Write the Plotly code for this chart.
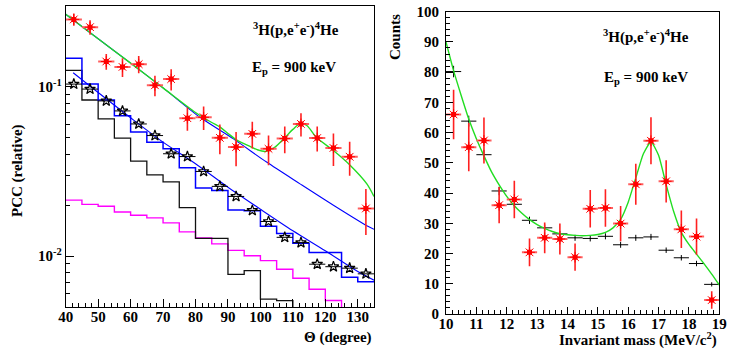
import plotly.graph_objects as go

W, H = 738, 356

# ---------------- Left panel data (Theta in degrees) ----------------
theta_edges = [40, 45, 50, 55, 60, 65, 70, 75, 80, 85, 90, 95, 100, 105, 110, 115, 120, 125, 130, 135]
theta_centers = [42.5, 47.5, 52.5, 57.5, 62.5, 67.5, 72.5, 77.5, 82.5, 87.5, 92.5, 97.5,
                 102.5, 107.5, 112.5, 117.5, 122.5, 127.5, 132.5]

pcc_exp = [0.250, 0.225, 0.141, 0.131, 0.136, 0.102, 0.111, 0.0652, 0.0660, 0.0499, 0.0440,
           0.0527, 0.0430, 0.0494, 0.0603, 0.0498, 0.0435, 0.0386, 0.0191]
pcc_exp_err = [0.021, 0.022, 0.015, 0.0166, 0.016, 0.014, 0.016, 0.0102, 0.0105, 0.0100, 0.0101,
               0.0095, 0.0086, 0.0089, 0.0095, 0.0084, 0.0095, 0.0088, 0.0058]

pcc_sim = [0.1037, 0.0969, 0.0825, 0.0720, 0.0603, 0.0515, 0.0402, 0.0387, 0.0316, 0.0258, 0.0225,
           0.0186, 0.0160, 0.0129, 0.0120, 0.00895, 0.00865, 0.00848, 0.00785]

hist_blue = [0.1475, 0.1037, 0.0836, 0.0675, 0.0540, 0.0470, 0.0430, 0.0332, 0.0252, 0.0244,
             0.0187, 0.0185, 0.0150, 0.0136, 0.0119, 0.0105, 0.0105, 0.0075, 0.00706]
hist_black = [0.125, 0.0835, 0.0646, 0.0497, 0.0364, 0.0302, 0.0274, 0.0193, 0.0127, 0.0127,
              0.0078, 0.0082, 0.00556, 0.00546, 0.004, 0.004, 0.004, 0.004, 0.004]
hist_magenta = [0.0214, 0.0202, 0.0197, 0.0182, 0.0174, 0.0168, 0.0157, 0.0139, 0.0128, 0.0118,
                0.0108, 0.01005, 0.0094, 0.00836, 0.0074, 0.00637, 0.00546, 0.004, 0.004]

fit_green_theta = [40, 50, 60, 70, 80, 85, 87.6, 90, 93, 96.8, 99, 101.5, 104.5, 107.5, 110, 112.3,
                   114.3, 117.4, 122.5, 127.7, 132.8, 135]
fit_green_pcc = [0.268, 0.192, 0.138, 0.0985, 0.0705, 0.0615, 0.0577, 0.0530, 0.0480, 0.0444, 0.0425,
                 0.0415, 0.0440, 0.0500, 0.0560, 0.0608, 0.0590, 0.0499, 0.0420, 0.0343, 0.0267, 0.0225]

fit_bg_theta = [40, 50, 60, 70, 81.4, 91.7, 101.9, 112.2, 122.5, 132.8, 135]
fit_bg_pcc = [0.268, 0.192, 0.138, 0.0985, 0.066, 0.0492, 0.0359, 0.0267, 0.01995, 0.0151, 0.0144]

fit_sim_theta = [42.3, 50, 60, 70, 80, 90, 100, 110, 120, 130, 135]
fit_sim_pcc = [0.121, 0.0925, 0.0656, 0.0471, 0.0351, 0.0255, 0.0189, 0.0141, 0.01074, 0.0081, 0.0072]

# ---------------- Right panel data (invariant mass) ----------------
mass_centers = [10.25, 10.75, 11.25, 11.75, 12.25, 12.75, 13.25, 13.75, 14.25, 14.75, 15.25,
                15.75, 16.25, 16.75, 17.25, 17.75, 18.25, 18.75]
counts_exp = [66.0, 55.2, 57.4, 36.0, 37.9, 20.4, 25.2, 24.8, 18.8, 34.8, 35.1, 29.9, 42.9, 57.3,
              43.9, 28.0, 25.6, 4.6]
counts_exp_err = [8.2, 8.0, 7.6, 6.0, 6.2, 4.6, 5.1, 5.1, 4.5, 6.2, 6.2, 5.8, 6.8, 7.8, 7.0, 6.2,
                  6.0, 2.9]
counts_sim = [80.2, 63.8, 52.7, 40.7, 36.3, 31.0, 28.5, 26.5, 25.2, 25.0, 25.7, 22.9, 25.2, 25.5,
              21.1, 18.6, 16.7, 9.8]
counts_sim_err = [1.9, 1.8, 1.6, 1.4, 1.3, 1.2, 1.1, 1.0, 1.0, 1.0, 1.0, 1.0, 1.0, 1.0, 0.9, 0.9,
                  0.9, 0.7]

fit_mass = [10.0, 10.25, 10.5, 10.75, 11.0, 11.25, 11.5, 11.75, 12.0, 12.25, 12.5, 12.75, 13.0,
            13.25, 13.5, 13.75, 14.0, 14.25, 14.5, 14.75, 15.0, 15.25, 15.5, 15.75, 16.0, 16.25,
            16.5, 16.75, 17.0, 17.25, 17.5, 17.75, 18.0, 18.25, 18.5, 18.75, 19.0]
fit_counts = [90.0, 80.5, 72.3, 64.5, 58.0, 52.3, 47.0, 42.7, 38.9, 35.8, 33.3, 31.2, 29.6,
              28.3, 27.3, 26.6, 26.2, 26.0, 25.9, 26.0, 26.3, 27.0, 28.5, 31.3, 37.0, 45.0,
              53.0, 57.0, 52.5, 42.8, 33.8, 27.0, 23.0, 19.8, 16.6, 13.2, 9.6]

theta_halfbin = 2.5
mass_halfbin = 0.25

# ---------------- Styles ----------------
SERIF = "Liberation Serif"
RED = "#ff0000"
GREEN = "#22dd22"
BLUE = "#0000ff"
MAGENTA = "#ff00ff"


def step_xy(edges, vals):
    xs = list(edges)
    ys = list(vals) + [vals[-1]]
    return xs, ys


fig = go.Figure()

# histograms (left)
for vals, col, w in [(hist_magenta, MAGENTA, 1.4), (hist_black, "#111111", 1.3), (hist_blue, BLUE, 1.5)]:
    xs, ys = step_xy(theta_edges, vals)
    fig.add_trace(go.Scatter(x=xs, y=ys, mode="lines", line=dict(color=col, width=w, shape="hv"),
                             xaxis="x", yaxis="y", showlegend=False, hoverinfo="skip"))

# fit lines (left)
fig.add_trace(go.Scatter(x=fit_bg_theta, y=fit_bg_pcc, mode="lines",
                         line=dict(color=BLUE, width=1.1, shape="spline", smoothing=0.8),
                         xaxis="x", yaxis="y", showlegend=False))
fig.add_trace(go.Scatter(x=fit_sim_theta, y=fit_sim_pcc, mode="lines",
                         line=dict(color=BLUE, width=1.1, shape="spline", smoothing=0.8),
                         xaxis="x", yaxis="y", showlegend=False))
fig.add_trace(go.Scatter(x=fit_green_theta, y=fit_green_pcc, mode="lines",
                         line=dict(color=GREEN, width=1.4, shape="spline", smoothing=0.8),
                         xaxis="x", yaxis="y", showlegend=False))

# simulated points (stars)
fig.add_trace(go.Scatter(x=theta_centers, y=pcc_sim, mode="markers",
                         marker=dict(symbol="star-open", size=8, color="black", line=dict(width=1.2, color="black")),
                         error_x=dict(type="constant", value=theta_halfbin, color="black", thickness=1, width=0),
                         xaxis="x", yaxis="y", showlegend=False))

# experimental points (left)
fig.add_trace(go.Scatter(x=theta_centers, y=pcc_exp, mode="markers",
                         marker=dict(symbol="square", size=5, color=RED),
                         error_x=dict(type="constant", value=theta_halfbin, color="#ff6060", thickness=2, width=0),
                         error_y=dict(type="data", array=pcc_exp_err, color="#ff2020", thickness=1.6, width=0),
                         xaxis="x", yaxis="y", showlegend=False))
fig.add_trace(go.Scatter(x=theta_centers, y=pcc_exp, mode="markers",
                         marker=dict(symbol="asterisk-open", size=9, color=RED, line=dict(width=1, color=RED)),
                         xaxis="x", yaxis="y", showlegend=False, hoverinfo="skip"))

# ---------------- Right panel ----------------
fig.add_trace(go.Scatter(x=mass_centers, y=counts_sim, mode="markers",
                         marker=dict(size=1, color="black"),
                         error_x=dict(type="constant", value=mass_halfbin, color="black", thickness=1, width=0),
                         error_y=dict(type="data", array=counts_sim_err, color="black", thickness=1, width=0),
                         xaxis="x2", yaxis="y2", showlegend=False))
fig.add_trace(go.Scatter(x=fit_mass, y=fit_counts, mode="lines",
                         line=dict(color=GREEN, width=1.4, shape="spline", smoothing=0.5),
                         xaxis="x2", yaxis="y2", showlegend=False))
fig.add_trace(go.Scatter(x=mass_centers, y=counts_exp, mode="markers",
                         marker=dict(symbol="square", size=5, color=RED),
                         error_x=dict(type="constant", value=mass_halfbin, color="#ff6060", thickness=2, width=0),
                         error_y=dict(type="data", array=counts_exp_err, color="#ff2020", thickness=1.6, width=0),
                         xaxis="x2", yaxis="y2", showlegend=False))
fig.add_trace(go.Scatter(x=mass_centers, y=counts_exp, mode="markers",
                         marker=dict(symbol="asterisk-open", size=9, color=RED, line=dict(width=1, color=RED)),
                         xaxis="x2", yaxis="y2", showlegend=False, hoverinfo="skip"))

tickfont = dict(family=SERIF, size=15, color="black", weight="bold")
common = dict(showgrid=False, zeroline=False, showline=True, mirror=True, linecolor="black",
              linewidth=1, ticks="inside", tickcolor="black", tickwidth=1, tickfont=tickfont,
              automargin=False)

log_minor = [0.006, 0.007, 0.008, 0.009, 0.02, 0.03, 0.04, 0.05, 0.06, 0.07, 0.08, 0.09, 0.2, 0.3]

fig.update_layout(
    width=W, height=H, margin=dict(l=0, r=0, t=0, b=0, autoexpand=False),
    paper_bgcolor="white", plot_bgcolor="white", showlegend=False,
    xaxis=dict(domain=[65.7 / W, 374 / W], range=[40, 135], anchor="y",
               tickvals=[40, 50, 60, 70, 80, 90, 100, 110, 120, 130], ticklen=8,
               minor=dict(dtick=2, tick0=40, ticks="inside", ticklen=4, tickcolor="black"),
               ticklabelstandoff=-4, **common),
    yaxis=dict(domain=[1 - 307 / H, 1 - 6 / H], type="log", range=[-2.30103, -0.52288], anchor="x",
               tickvals=[0.01, 0.1], ticktext=["10<sup>-2</sup>", "10<sup>-1</sup>"], ticklen=8,
               minor=dict(tickvals=log_minor, ticks="inside", ticklen=4, tickcolor="black"),
               ticklabelstandoff=0, **common),
    xaxis2=dict(domain=[446 / W, 719.3 / W], range=[10, 19], anchor="y2",
                tickvals=list(range(10, 20)), ticklen=7,
                minor=dict(dtick=0.2, tick0=10, ticks="inside", ticklen=4, tickcolor="black"),
                ticklabelstandoff=-4, **common),
    yaxis2=dict(domain=[1 - 314 / H, 1 - 11.7 / H], range=[0, 100], anchor="x2",
                tickvals=list(range(0, 101, 10)), ticklen=7,
                minor=dict(dtick=2, tick0=0, ticks="inside", ticklen=4, tickcolor="black"),
                ticklabelstandoff=3, **common),
)

afont = dict(family=SERIF, size=15, color="black", weight="bold")
annots = [
    dict(text="<sup>3</sup>H(p,e<sup>+</sup>e<sup>-</sup>)<sup>4</sup>He", x=251 / W, y=1 - 29 / H,
         xanchor="left", yanchor="middle"),
    dict(text="E<sub>p</sub> = 900 keV", x=250 / W, y=1 - 68 / H, xanchor="left", yanchor="middle"),
    dict(text="<sup>3</sup>H(p,e<sup>+</sup>e<sup>-</sup>)<sup>4</sup>He", x=601 / W, y=1 - 37 / H,
         xanchor="left", yanchor="middle"),
    dict(text="E<sub>p</sub> = 900 keV", x=602 / W, y=1 - 78 / H, xanchor="left", yanchor="middle"),
    dict(text="Θ (degree)", x=374 / W, y=1 - 337 / H, xanchor="right", yanchor="middle"),
    dict(text="Invariant mass (MeV/c<sup>2</sup>)", x=719 / W, y=1 - 339 / H, xanchor="right",
         yanchor="middle"),
    dict(text="PCC (relative)", x=17 / W, y=1 - 171 / H, xanchor="center", yanchor="middle",
         textangle=-90),
    dict(text="Counts", x=395 / W, y=1 - 12 / H, xanchor="center", yanchor="top", textangle=-90),
]
for a in annots:
    fig.add_annotation(xref="paper", yref="paper", showarrow=False, font=afont, **a)

# remove the browser's default page margin so the figure starts at the window's corner
fig.write_html("out.html", config={"displayModeBar": False},
               post_script="document.body.style.margin='0px';")
